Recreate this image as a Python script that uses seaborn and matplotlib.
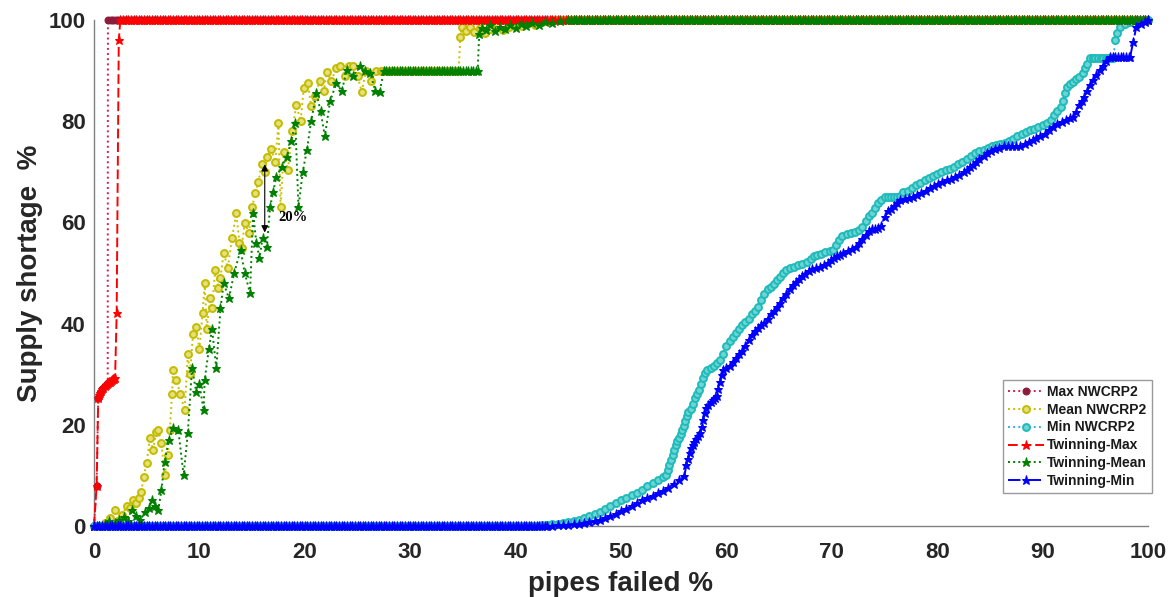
import numpy as np
import pandas as pd
import matplotlib
matplotlib.use("Agg")
import matplotlib.pyplot as plt
import seaborn as sns
from matplotlib.ticker import MultipleLocator

# ---------------- data ----------------
# pairs are (pipes failed %, supply shortage %); tuples (start, stop, value) are flat runs
max_nwcrp2_rise = [(0, 0), (0.25, 8.0), (0.4, 25.2), (0.6, 26.3), (0.8, 27.0), (1.0, 27.6),
                   (1.2, 28.0), (1.3, 28.2), (1.32, 100)]
max_nwcrp2_top = (1.32, 100, 100)

mean_nwcrp2_rise = [(0, 0), (0.5, 0), (1.0, 0.5), (1.5, 1.5), (2.0, 3.2), (2.3, 1.0), (2.7, 2.2),
                    (3.1, 4.0), (3.4, 3.5), (3.7, 5.1), (4.0, 4.5), (4.3, 5.5), (4.5, 6.8), (4.7, 9.7),
                    (5.0, 12.4), (5.3, 17.4), (5.6, 15.0), (5.9, 18.5), (6.1, 19.0), (6.4, 16.4),
                    (6.7, 10.0), (7.0, 14.0), (7.2, 19.0), (7.4, 26.0), (7.5, 30.8), (7.8, 28.9),
                    (8.2, 26.0), (8.6, 22.9), (8.9, 34.0), (9.1, 30.0), (9.4, 38.0), (9.7, 39.4),
                    (10.0, 35.0), (10.3, 42.0), (10.5, 48.0), (10.7, 39.0), (11.0, 45.0), (11.2, 43.0),
                    (11.5, 50.6), (11.8, 47.0), (12.0, 49.0), (12.3, 54.0), (12.7, 51.0), (13.1, 57.0),
                    (13.5, 61.8), (13.8, 56.0), (14.0, 55.0), (14.3, 59.8), (14.7, 58.0), (15.0, 63.0),
                    (15.3, 65.8), (15.6, 68.0), (15.9, 71.6), (16.2, 70.0), (16.4, 73.0), (16.8, 74.5),
                    (17.2, 72.0), (17.5, 79.6), (17.7, 63.0), (18.0, 74.0), (18.4, 70.4), (18.8, 78.0),
                    (19.2, 83.2), (19.6, 80.0), (19.9, 86.5), (20.3, 87.5), (20.6, 83.0), (21.0, 85.0),
                    (21.4, 88.0), (21.8, 86.0), (22.1, 89.8), (22.5, 88.0), (23.0, 90.5), (23.3, 91.0),
                    (23.8, 89.0), (24.2, 91.0), (24.6, 91.0), (25.0, 89.0), (25.4, 85.8), (25.8, 90.0),
                    (26.3, 88.0), (26.8, 90.0), (27.2, 90.0)]
mean_nwcrp2_mid = (27.2, 34.6, 90)
mean_nwcrp2_jump = [(34.75, 96.7), (34.9, 98.7), (35.3, 97.8), (35.7, 98.6), (36.1, 97.6), (36.6, 98.4),
                    (37.1, 97.5), (37.6, 98.3), (38.2, 98.8), (38.8, 98.0), (39.4, 98.7), (40.0, 99.2),
                    (40.6, 98.8), (41.2, 99.4), (41.8, 99.1), (42.5, 99.6), (43.2, 99.8), (44.0, 100)]
mean_nwcrp2_top = (44.0, 100, 100)

min_nwcrp2_zero = (0, 42, 0)
min_nwcrp2_rise = [(42.5, 0.1), (43.0, 0.2), (43.5, 0.3), (44.0, 0.4), (44.5, 0.6), (45.0, 0.8),
                   (45.5, 1.0), (46.0, 1.2), (46.5, 1.5), (47.0, 1.9), (47.5, 2.3), (48.0, 2.8),
                   (48.5, 3.3), (49.0, 3.9), (49.5, 4.5), (50.0, 5.1), (50.5, 5.6), (51.0, 6.1),
                   (51.5, 6.6), (52.0, 7.2), (52.5, 7.9), (53.0, 8.5), (53.5, 9.0), (54.0, 9.6),
                   (54.3, 10.0), (54.45, 11.0), (54.6, 12.0), (54.75, 13.0), (54.9, 14.0), (55.05, 15.0),
                   (55.2, 16.0), (55.35, 16.8), (55.5, 17.4), (55.65, 18.2), (55.8, 19.0), (55.95, 19.8),
                   (56.1, 20.8), (56.25, 21.8), (56.4, 22.5), (56.6, 23.2), (56.8, 24.2), (57.0, 25.2),
                   (57.2, 26.0), (57.4, 26.8), (57.6, 28.0), (57.8, 29.3), (58.0, 30.2), (58.2, 30.8),
                   (58.5, 31.3), (58.8, 31.7), (59.1, 32.2), (59.4, 32.8), (59.7, 34.0), (60.0, 35.5),
                   (60.3, 36.6), (60.6, 37.4), (60.9, 38.2), (61.2, 39.0), (61.5, 39.7), (61.8, 40.3),
                   (62.1, 41.0), (62.4, 41.8), (62.7, 42.4), (63.0, 43.2), (63.3, 44.6), (63.6, 45.8),
                   (63.9, 46.8), (64.2, 47.3), (64.5, 47.8), (64.8, 48.6), (65.1, 49.3), (65.4, 50.0),
                   (65.7, 50.6), (66.0, 51.0), (66.4, 51.2), (66.8, 51.5), (67.2, 51.8), (67.6, 52.2),
                   (68.0, 52.8), (68.3, 53.3), (68.6, 53.6), (69.0, 53.8), (69.4, 54.1), (69.8, 54.3),
                   (70.1, 54.5), (70.4, 55.5), (70.7, 56.5), (71.0, 57.3), (71.4, 57.8), (71.8, 58.0),
                   (72.2, 58.2), (72.6, 58.4), (72.9, 59.0), (73.2, 60.2), (73.5, 61.2), (73.8, 61.9),
                   (74.1, 62.8), (74.4, 63.8), (74.7, 64.5), (75.0, 65.0), (75.3, 65.0), (75.6, 65.0),
                   (75.9, 65.0), (76.2, 65.1), (76.5, 65.3), (76.8, 66.1), (77.2, 66.3), (77.6, 66.8),
                   (78.0, 67.3), (78.4, 67.8), (78.8, 68.3), (79.2, 68.8), (79.6, 69.2), (80.0, 69.5),
                   (80.4, 70.0), (80.8, 70.3), (81.2, 70.6), (81.6, 71.0), (82.0, 71.5), (82.4, 72.0),
                   (82.8, 72.5), (83.2, 73.2), (83.6, 73.8), (84.0, 74.2), (84.4, 74.4), (84.8, 74.7),
                   (85.2, 75.0), (85.6, 75.2), (86.0, 75.4), (86.4, 75.7), (86.8, 76.1), (87.2, 76.5),
                   (87.6, 77.0), (88.0, 77.4), (88.4, 77.9), (88.8, 78.3), (89.2, 78.5), (89.6, 78.8),
                   (90.0, 79.2), (90.4, 79.7), (90.8, 80.3), (91.1, 81.2), (91.4, 82.0), (91.7, 82.9),
                   (91.9, 84.0), (92.1, 85.5), (92.3, 86.8), (92.6, 87.3), (92.9, 87.8), (93.2, 88.3),
                   (93.5, 88.8), (93.8, 89.6), (94.0, 90.5), (94.2, 91.4), (94.5, 92.4)]
min_nwcrp2_step = (94.5, 96.7, 92.4)
min_nwcrp2_end = [(96.9, 96.0), (97.1, 97.5), (97.3, 98.7), (97.8, 99.3), (98.3, 99.6), (98.9, 100)]
min_nwcrp2_top = (98.9, 100, 100)

twin_max_rise = [(0, 0), (0.25, 8.0), (0.4, 25.2), (0.5, 25.8), (0.6, 26.3), (0.7, 26.7), (0.8, 27.0),
                 (0.9, 27.3), (1.0, 27.6), (1.1, 27.8), (1.2, 28.0), (1.3, 28.2), (1.4, 28.4),
                 (1.5, 28.5), (1.6, 28.7), (1.7, 28.8), (1.8, 29.0), (1.9, 29.1), (2.0, 29.2),
                 (2.15, 42.0), (2.35, 96.0), (2.5, 100)]
twin_max_top = (2.5, 100, 100)

twin_mean_rise = [(0, 0), (0.5, 0), (1.0, 0.3), (1.4, 0.9), (2.0, 0.5), (2.4, 1.2), (2.8, 1.8),
                  (3.2, 1.0), (3.6, 3.2), (4.0, 2.0), (4.4, 1.2), (4.8, 2.8), (5.2, 3.5), (5.5, 5.1),
                  (5.8, 4.0), (6.1, 3.2), (6.4, 7.1), (6.7, 12.7), (7.1, 17.0), (7.5, 19.4), (8.0, 19.0),
                  (8.5, 10.0), (8.9, 18.4), (9.3, 31.2), (9.7, 26.5), (10.0, 28.0), (10.4, 22.9),
                  (10.5, 28.9), (10.9, 35.0), (11.2, 39.0), (11.6, 31.2), (12.0, 43.0), (12.3, 48.0),
                  (12.8, 45.0), (13.3, 50.0), (13.9, 54.5), (14.3, 50.0), (14.8, 46.0), (15.1, 61.8),
                  (15.4, 56.0), (15.7, 53.0), (16.0, 57.0), (16.4, 55.2), (16.7, 63.0), (17.0, 66.0),
                  (17.3, 69.0), (17.8, 71.0), (18.3, 73.0), (18.7, 76.0), (19.1, 79.6), (19.4, 63.0),
                  (19.8, 70.0), (20.2, 74.3), (20.6, 80.0), (21.1, 85.5), (21.5, 82.0), (21.9, 77.0),
                  (22.4, 84.0), (23.0, 87.5), (23.5, 86.0), (24.0, 90.1), (24.6, 89.0), (25.2, 91.0),
                  (25.7, 90.0), (26.2, 89.5), (26.7, 86.0), (27.1, 85.8), (27.5, 90.0)]
twin_mean_mid = (27.5, 36.4, 90)
twin_mean_jump = [(36.55, 97.3), (36.8, 98.5), (37.2, 98.0), (37.6, 99.0), (38.0, 97.8), (38.5, 98.6),
                  (39.0, 98.2), (39.5, 99.0), (40.0, 98.4), (40.5, 99.3), (41.0, 98.9), (41.6, 99.5),
                  (42.2, 99.1), (42.8, 99.6), (43.5, 99.4), (44.2, 99.8), (45.0, 100)]
twin_mean_top = (45.0, 100, 100)

twin_min_zero = (0, 43, 0)
twin_min_rise = [(43.5, 0.05), (44.0, 0.1), (44.5, 0.15), (45.0, 0.2), (45.5, 0.3), (46.0, 0.4),
                 (46.5, 0.6), (47.0, 0.8), (47.5, 1.0), (48.0, 1.2), (48.5, 1.5), (49.0, 1.9),
                 (49.5, 2.4), (50.0, 2.9), (50.5, 3.4), (51.0, 4.0), (51.5, 4.6), (52.0, 5.1),
                 (52.5, 5.6), (53.0, 6.0), (53.5, 6.5), (54.0, 7.0), (54.5, 7.6), (55.0, 8.3),
                 (55.5, 9.0), (56.0, 9.8), (56.2, 12.0), (56.35, 13.2), (56.5, 14.4), (56.65, 15.4),
                 (56.8, 16.0), (56.95, 16.6), (57.1, 17.2), (57.3, 17.8), (57.5, 18.3), (57.65, 19.5),
                 (57.8, 21.0), (57.95, 22.3), (58.1, 23.3), (58.3, 24.0), (58.5, 24.6), (58.7, 25.0),
                 (58.9, 25.3), (59.1, 25.6), (59.25, 27.0), (59.4, 28.5), (59.55, 29.8), (59.7, 30.8),
                 (60.0, 31.2), (60.3, 31.6), (60.6, 32.4), (60.9, 33.2), (61.2, 33.9), (61.5, 34.6),
                 (61.8, 35.6), (62.1, 36.8), (62.4, 37.8), (62.7, 38.6), (63.0, 39.2), (63.3, 39.7),
                 (63.6, 40.2), (63.9, 41.0), (64.2, 41.8), (64.5, 42.5), (64.8, 43.3), (65.1, 44.0),
                 (65.4, 45.0), (65.7, 45.9), (66.0, 46.8), (66.3, 47.6), (66.6, 48.3), (66.9, 48.9),
                 (67.2, 49.4), (67.5, 49.9), (67.8, 50.4), (68.1, 50.7), (68.5, 50.9), (68.9, 51.2),
                 (69.3, 51.6), (69.6, 52.0), (69.9, 52.5), (70.2, 52.9), (70.5, 53.3), (70.8, 53.6),
                 (71.1, 53.9), (71.5, 54.3), (71.9, 54.8), (72.3, 55.2), (72.6, 56.0), (72.9, 56.8),
                 (73.2, 57.6), (73.5, 58.3), (73.8, 58.6), (74.1, 58.7), (74.4, 58.8), (74.7, 59.3),
                 (75.0, 61.0), (75.3, 62.2), (75.6, 62.7), (75.9, 63.3), (76.2, 63.9), (76.5, 64.4),
                 (76.9, 64.7), (77.3, 64.9), (77.7, 65.1), (78.1, 65.4), (78.5, 65.8), (78.9, 66.3),
                 (79.3, 66.7), (79.7, 67.1), (80.1, 67.5), (80.5, 67.9), (80.9, 68.4), (81.3, 68.6),
                 (81.7, 68.9), (82.1, 69.3), (82.5, 69.9), (82.8, 70.4), (83.1, 70.9), (83.4, 71.4),
                 (83.7, 71.9), (84.0, 72.5), (84.4, 73.2), (84.7, 73.7), (85.1, 74.1), (85.5, 74.5),
                 (85.9, 74.8), (86.3, 75.0), (86.7, 75.0), (87.1, 75.0), (87.5, 75.0), (87.9, 75.0),
                 (88.3, 75.4), (88.7, 75.9), (89.1, 76.3), (89.4, 76.6), (89.8, 77.0), (90.2, 77.5),
                 (90.6, 78.2), (91.0, 78.9), (91.4, 79.4), (91.8, 79.8), (92.2, 80.2), (92.6, 80.6),
                 (92.9, 80.9), (93.2, 81.8), (93.5, 83.2), (93.7, 84.0), (93.9, 84.8), (94.2, 86.0),
                 (94.5, 87.2), (94.8, 88.1), (95.1, 89.1), (95.4, 90.1), (95.7, 91.0), (96.0, 91.8),
                 (96.4, 92.7)]
twin_min_step = (96.4, 98.3, 92.7)
twin_min_end = [(98.6, 95.7), (98.9, 98.7), (99.3, 99.2), (99.7, 99.6), (100.0, 100.0)]

series_labels = ["Max NWCRP2", "Mean NWCRP2", "Min NWCRP2",
                 "Twinning-Max", "Twinning-Mean", "Twinning-Min"]
x_ticks = [0, 10, 20, 30, 40, 50, 60, 70, 80, 90, 100]
y_ticks = [0, 20, 40, 60, 80, 100]

# ---------------- build tables ----------------
SAMPLE_STEP = 0.25  # spacing of the samples along a flat run


def assemble(*parts):
    xs, ys = [], []
    for p in parts:
        if isinstance(p, tuple):
            a, b, v = p
            pts = list(np.arange(a, b + 1e-9, SAMPLE_STEP))
            if pts[-1] < b - 1e-9:
                pts.append(b)
            pairs = [(float(t), v) for t in pts]
        else:
            pairs = p
        for xv, yv in pairs:
            if xs and xv <= xs[-1] + 1e-9:
                continue
            xs.append(xv)
            ys.append(yv)
    return pd.DataFrame({"pipes": xs, "shortage": ys})


tables = [
    assemble(max_nwcrp2_rise, max_nwcrp2_top),
    assemble(mean_nwcrp2_rise, mean_nwcrp2_mid, mean_nwcrp2_jump, mean_nwcrp2_top),
    assemble(min_nwcrp2_zero, min_nwcrp2_rise, min_nwcrp2_step, min_nwcrp2_end, min_nwcrp2_top),
    assemble(twin_max_rise, twin_max_top),
    assemble(twin_mean_rise, twin_mean_mid, twin_mean_jump, twin_mean_top),
    assemble(twin_min_zero, twin_min_rise, twin_min_step, twin_min_end),
]

styles = [
    dict(color="#d81e4a", linestyle=":", marker="o", markersize=5,
         markerfacecolor="#8c1c3c", markeredgecolor="#8c1c3c"),
    dict(color="#c8c000", linestyle=":", marker="o", markersize=5,
         markerfacecolor="#e4e07a", markeredgecolor="#c4bc00", markeredgewidth=1.4),
    dict(color="#3aaaf0", linestyle=":", marker="o", markersize=5,
         markerfacecolor="#6fd4d4", markeredgecolor="#1fbaba", markeredgewidth=1.4),
    dict(color="#ff0000", linestyle=(0, (5, 2)), marker="*", markersize=6.5,
         markerfacecolor="#ff0000", markeredgecolor="#ff0000"),
    dict(color="#008000", linestyle=":", marker="*", markersize=6.5,
         markerfacecolor="#008000", markeredgecolor="#008000"),
    dict(color="#0000ff", linestyle="-.", marker="*", markersize=6.5,
         markerfacecolor="#0000ff", markeredgecolor="#0000ff"),
]

# ---------------- figure ----------------
sns.set_theme(style="white")
plt.rcParams["font.family"] = ["Liberation Sans", "DejaVu Sans"]
plt.rcParams["font.weight"] = "bold"
plt.rcParams["axes.labelweight"] = "bold"

fig = plt.figure(figsize=(11.72, 5.97), dpi=100)
ax = fig.add_axes([94 / 1172, 71 / 597, 1054 / 1172, 506 / 597])

for i, (df, lab, st) in enumerate(zip(tables, series_labels, styles)):
    sns.lineplot(data=df, x="pipes", y="shortage", ax=ax, sort=False, estimator=None,
                 label=lab, linewidth=1.4, clip_on=False, zorder=3 + i, **st)

ax.set_xlim(0, 100)
ax.set_ylim(0, 100)
ax.set_xticks(x_ticks)
ax.set_yticks(y_ticks)
ax.xaxis.set_minor_locator(MultipleLocator(2))
ax.yaxis.set_minor_locator(MultipleLocator(4))
ax.tick_params(which="major", direction="in", length=7, width=1, color="#808080",
               labelsize=16, labelcolor="#262626")
ax.tick_params(axis="x", which="major", pad=11.5)
ax.tick_params(axis="y", which="major", pad=6)
ax.tick_params(which="minor", direction="in", length=3.5, width=1, color="#808080")
for lab in ax.get_xticklabels() + ax.get_yticklabels():
    lab.set_fontweight("bold")
for s in ["top", "right"]:
    ax.spines[s].set_visible(False)
for s in ["left", "bottom"]:
    ax.spines[s].set_color("#808080")
    ax.spines[s].set_linewidth(1)

ax.set_xlabel("pipes failed %", fontsize=20, fontweight="bold", color="#262626", labelpad=6)
ax.set_ylabel("Supply shortage  %", fontsize=20, fontweight="bold", color="#262626", labelpad=4)

# 20 % gap annotation
ax.annotate("", xy=(16.2, 71.5), xytext=(16.2, 58.0),
            arrowprops=dict(arrowstyle="<|-|>", color="black", lw=0.8,
                            shrinkA=0, shrinkB=0, mutation_scale=10), zorder=20)
ax.text(17.5, 61, "20%", fontfamily=["Liberation Serif", "DejaVu Serif"], fontweight="bold",
        fontsize=10.5, va="center", ha="left", color="black", zorder=20)

handles, labels = ax.get_legend_handles_labels()
leg = ax.legend(handles, labels, loc="lower right", bbox_to_anchor=(1152 / 1172, 104 / 597),
                bbox_transform=fig.transFigure, frameon=True, fancybox=False,
                edgecolor="#9a9a9a", framealpha=1, prop=dict(size=10, weight="bold"),
                handlelength=2.6, handletextpad=0.25, labelspacing=0.28, borderpad=0.35,
                borderaxespad=0, numpoints=1)
leg.get_frame().set_linewidth(1)
for t in leg.get_texts():
    t.set_color("#1a1a1a")

fig.savefig("out.png", dpi=100)
